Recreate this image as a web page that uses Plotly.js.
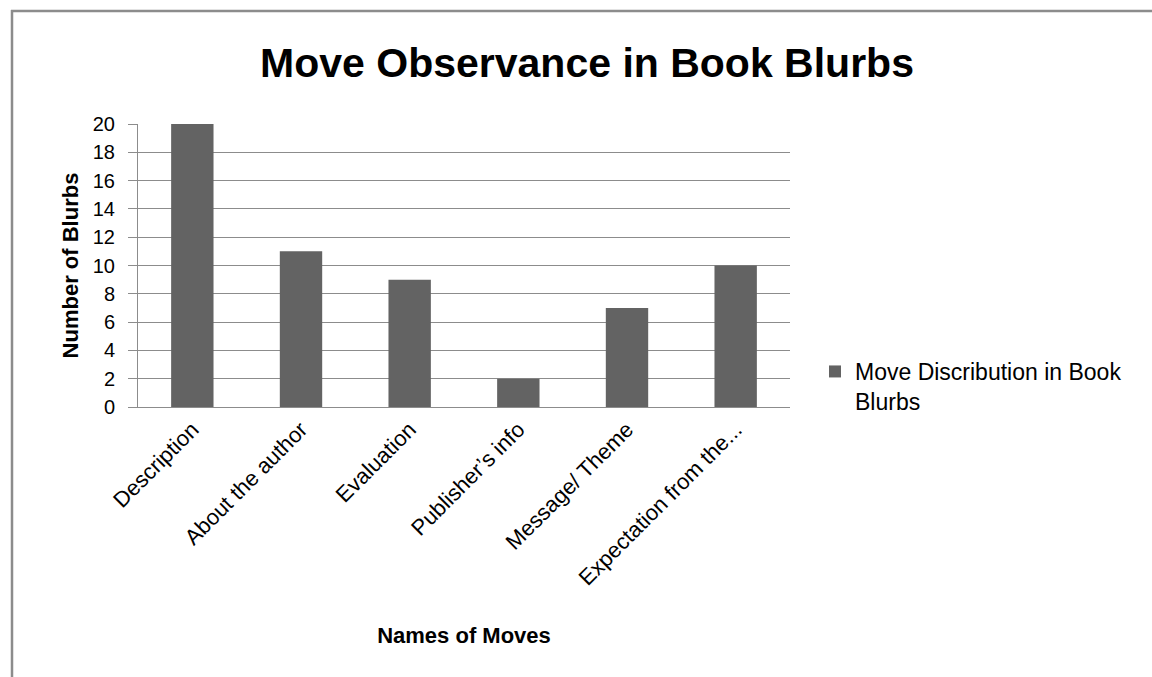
<!DOCTYPE html>
<html>
<head>
<meta charset="utf-8">
<script src="https://cdn.plot.ly/plotly-3.0.1.min.js"></script>
<style>html,body{margin:0;padding:0;background:#fff;}#chart{width:1152px;height:677px;}</style>
</head>
<body>
<div id="chart"></div>
<script>
const categories = ["Description", "About the author", "Evaluation", "Publisher\u2019s info", "Message/ Theme", "Expectation from the..."];
const values = [20, 11, 9, 2, 7, 10];
const seriesName = "Move Discribution in Book<br>Blurbs";
const yTicks = [0, 2, 4, 6, 8, 10, 12, 14, 16, 18, 20];

const FONT = "'Liberation Sans', Arial, sans-serif";
const L = 138, R = 790, T = 124, B = 407, W = 1152, H = 677;
const px = x => (x - L) / (R - L);
const py = y => (B - y) / (B - T);

const trace = {
  type: 'bar',
  x: categories,
  y: values,
  name: seriesName,
  marker: {color: '#636363'},
  showlegend: true
};

const layout = {
  width: W, height: H,
  margin: {l: L, r: W - R, t: T, b: H - B, pad: 0},
  paper_bgcolor: '#fff', plot_bgcolor: '#fff',
  font: {family: FONT, color: '#000', size: 18},
  title: {text: '<b>Move Observance in Book Blurbs</b>', font: {family: FONT, size: 41, color: '#000'}, x: 587 / W, xref: 'container', xanchor: 'center', y: 1 - 63 / H, yanchor: 'middle'},
  bargap: 0.61,
  showlegend: true,
  legend: {x: px(815), y: py(350), xanchor: 'left', yanchor: 'top', valign: 'top', font: {family: FONT, size: 23, color: '#000'}, bgcolor: 'rgba(0,0,0,0)', borderwidth: 0, tracegroupgap: 0},
  xaxis: {
    type: 'category', tickangle: -45, showgrid: false, ticks: '', showline: true, linecolor: '#8c8c8c', linewidth: 1,
    tickfont: {family: FONT, size: 22}, automargin: false,
    title: {text: '<b>Names of Moves</b>', font: {family: FONT, size: 22}, standoff: 38}
  },
  yaxis: {
    range: [0, 20], tickvals: yTicks, ticktext: yTicks.map(String), showgrid: true, gridcolor: '#8c8c8c', gridwidth: 1,
    showline: true, linecolor: '#8c8c8c', ticks: 'outside', ticklen: 9, tickcolor: '#8c8c8c', zeroline: false,
    ticklabelstandoff: 9,
    tickfont: {family: FONT, size: 20}, automargin: false,
    title: {text: '<b>Number of Blurbs</b>', font: {family: FONT, size: 22}, standoff: 8}
  },
  shapes: [
    {type: 'line', xref: 'paper', yref: 'paper', x0: px(11), x1: px(1152), y0: py(11), y1: py(11), line: {color: '#8c8c8c', width: 2.5}},
    {type: 'line', xref: 'paper', yref: 'paper', x0: px(12), x1: px(12), y0: py(10), y1: py(677), line: {color: '#8c8c8c', width: 2.5}}
  ]
};

Plotly.newPlot('chart', [trace], layout, {displayModeBar: false, staticPlot: true});
</script>
</body>
</html>
